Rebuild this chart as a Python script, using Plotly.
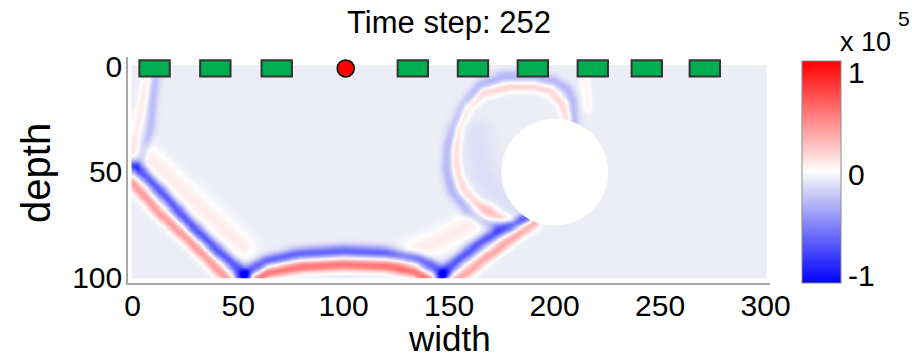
import numpy as np
import plotly.graph_objects as go

# ---------------- data ----------------
time_step = 252
width_ticks = [0, 50, 100, 150, 200, 250, 300]
depth_ticks = [0, 50, 100]
cbar_tick_text = ["-1", "0", "1"]
cbar_tick_pos = [-0.93, -0.02, 0.9]   # where the labels sit along the bar
cbar_exponent = 5

grid_width = np.arange(0, 301)      # width samples
grid_depth = np.arange(0, 101)      # depth samples
background_level = -0.06

receiver_x = [10.4, 39.2, 68.3, 132.8, 161.3, 189.7, 218.1, 243.7, 271.2]
receiver_depth = [1, 1, 1, 1, 1, 1, 1, 1, 1]
source_x = [101]
source_depth = [1]

hole_x = 200.1
hole_depth = 50.2
hole_radius = 25.3

# wavefronts: (width points, depth points, amplitude, band sigma)
left_wall_blue_x = [12, 10.6, 8.2, 4.5, 1.9]
left_wall_blue_d = [-1, 5, 29, 41, 47.7]
left_wall_red_x = [8, 6.6, 3.5, 1.2, -1]
left_wall_red_d = [-1, 5, 22, 32, 40]

left_v_blue_x = [-1, 1.9, 14, 26, 40, 52.4, 54]
left_v_blue_d = [46.8, 47.7, 60, 73.5, 87, 97.8, 100.5]
left_v_red_x = [-1.5, 0.3, 12, 26, 36, 43.7, 45]
left_v_red_d = [54.4, 55.6, 69, 82, 92, 99.8, 101.5]
left_inner_faint_x = [5, 20, 36, 52]
left_inner_faint_d = [41, 55, 70, 85]

bottom_blue_x = [51, 56, 63, 78, 100, 120, 135, 142, 147.5]
bottom_blue_d = [99.5, 96, 92, 88.5, 87.2, 88, 91, 94.5, 98.5]
bottom_red_x = [58, 64, 80, 100, 120, 133, 140]
bottom_red_d = [101, 97.5, 94.8, 93.8, 94.5, 97, 101]

right_v_blue_x = [145.5, 148, 161.5, 172, 180.4, 186]
right_v_blue_d = [100.5, 96.5, 85.6, 78.5, 74.5, 72]
right_v_red_x = [152, 156, 170, 186.7, 190]
right_v_red_d = [101.5, 99.2, 88.5, 76.2, 74]
right_inner_faint_x = [128, 148, 168]
right_inner_faint_d = [90, 81, 70]

scatter_blue_x = [172, 166, 158.3, 150.8, 148.6, 149.2, 152, 157, 164.7, 175, 190, 200, 205.7, 208.3, 208.8, 209]
scatter_blue_d = [75.5, 73.5, 68.2, 58.7, 47.7, 38, 28.5, 18, 8.5, 4.5, 4.3, 6.8, 10.5, 16, 22.4, 27]
scatter_red_x = [180, 171, 163, 157, 153.5, 152.6, 154.2, 158.6, 166, 178.8, 190, 197.7, 203.5, 205.7]
scatter_red_d = [73, 69.8, 65, 58.5, 50, 41, 29, 19, 12.5, 9.6, 9.6, 11.5, 17.7, 24]
scatter_faint_blue_x = [163, 165, 171, 178]
scatter_faint_blue_d = [32, 48, 60, 66]
stub_red_x = [214, 215, 215.5]
stub_red_d = [6, 13, 20]

wavefronts = [
    (left_wall_blue_x, left_wall_blue_d, -0.2, 1.7),
    (left_wall_red_x, left_wall_red_d, 0.13, 1.7),
    (left_v_blue_x, left_v_blue_d, -0.6, 1.9),
    (left_v_red_x, left_v_red_d, 0.45, 1.9),
    (left_inner_faint_x, left_inner_faint_d, 0.13, 4.0),
    (bottom_blue_x, bottom_blue_d, -0.55, 1.9),
    (bottom_red_x, bottom_red_d, 0.6, 1.9),
    (right_v_blue_x, right_v_blue_d, -0.6, 1.9),
    (right_v_red_x, right_v_red_d, 0.4, 1.9),
    (right_inner_faint_x, right_inner_faint_d, 0.13, 4.0),
    (scatter_blue_x, scatter_blue_d, -0.22, 1.8),
    (scatter_red_x, scatter_red_d, 0.22, 1.7),
    (scatter_faint_blue_x, scatter_faint_blue_d, -0.06, 5.0),
    (stub_red_x, stub_red_d, 0.1, 1.5),
]

# ---------------- build the field from the wavefronts ----------------
GX, GD = np.meshgrid(grid_width, grid_depth)


def polyline_distance(px, py, xs, ys):
    d = np.full(px.shape, np.inf)
    for i in range(len(xs) - 1):
        ax, ay, bx, by = xs[i], ys[i], xs[i + 1], ys[i + 1]
        dx, dy = bx - ax, by - ay
        L2 = dx * dx + dy * dy
        t = np.clip(((px - ax) * dx + (py - ay) * dy) / L2, 0, 1)
        d = np.minimum(d, np.hypot(px - (ax + t * dx), py - (ay + t * dy)))
    return d


field = np.full(GX.shape, background_level, dtype=float)
for xs, ds, amp, sig in wavefronts:
    dist = polyline_distance(GX, GD, xs, ds)
    field += amp * np.exp(-0.5 * (dist / sig) ** 2)
field = np.clip(field, -1, 1)

bg_pos = (1 + background_level) / 2
colorscale = [
    [0.0, "rgb(0,0,255)"],
    [bg_pos, "rgb(236,237,246)"],
    [0.5, "rgb(255,255,255)"],
    [1.0, "rgb(255,0,0)"],
]

FONT = "Liberation Sans, Arial, Helvetica, sans-serif"

fig = go.Figure()
fig.add_trace(go.Heatmap(
    x=grid_width, y=grid_depth, z=np.round(field, 3),
    colorscale=colorscale, zmin=-1, zmax=1, zsmooth="best",
    hoverinfo="skip",
    colorbar=dict(
        x=(802 - 128) / 642, xanchor="left", xpad=0,
        y=0.489, yanchor="middle", ypad=0,
        lenmode="pixels", len=222, thicknessmode="pixels", thickness=39,
        outlinewidth=1, outlinecolor="#8c8c8c",
        tickvals=cbar_tick_pos, ticktext=cbar_tick_text,
        ticks="",
        tickfont=dict(size=30, color="black", family=FONT),
    ),
))

fig.add_trace(go.Scatter(
    x=source_x, y=source_depth, mode="markers", cliponaxis=False,
    marker=dict(size=17, color="#ff0000", line=dict(color="black", width=1.5)),
    hoverinfo="skip", showlegend=False,
))

shapes = [dict(type="circle", xref="x", yref="y",
               x0=hole_x - hole_radius, x1=hole_x + hole_radius,
               y0=hole_depth - hole_radius, y1=hole_depth + hole_radius,
               fillcolor="white", line=dict(width=0), layer="above")]
for rx, rd in zip(receiver_x, receiver_depth):
    shapes.append(dict(type="rect", xref="x", yref="y",
                       x0=rx - 7.2, x1=rx + 7.2, y0=rd - 3.9, y1=rd + 3.9,
                       fillcolor="#00ae4f", line=dict(color="#333333", width=2),
                       layer="above"))

axis_common = dict(showline=True, linecolor="#a8a8a8", linewidth=1.5,
                   ticks="", showgrid=False, zeroline=False,
                   tickfont=dict(size=30, color="black", family=FONT))

fig.update_layout(
    width=912, height=359,
    margin=dict(l=128, r=142, t=57, b=76),
    paper_bgcolor="white", plot_bgcolor="white",
    font=dict(family=FONT, color="black"),
    showlegend=False,
    shapes=shapes,
    title=dict(text=f"Time step: {time_step}", x=0.5, xref="paper",
               y=1 - 22 / 359, yref="container", yanchor="middle",
               xanchor="center", font=dict(size=31, color="black", family=FONT)),
    xaxis=dict(range=[-2.2, 302.1], tickvals=width_ticks,
               ticklabelstandoff=-5, **axis_common),
    yaxis=dict(range=[102.7, -4.4], tickvals=depth_ticks,
               ticklabelstandoff=-2, **axis_common),
    annotations=[
        dict(text="width", xref="paper", yref="paper", x=0.5, y=(283 - 338.5) / 226,
             xanchor="center", yanchor="middle", showarrow=False,
             font=dict(size=35, color="black", family=FONT)),
        dict(text="depth", xref="paper", yref="paper", x=(36 - 128) / 642, y=0.487,
             xanchor="center", yanchor="middle", textangle=-90, showarrow=False,
             font=dict(size=40, color="black", family=FONT)),
        dict(text="x 10", xref="paper", yref="paper",
             x=(838 - 128) / 642, y=(283 - 42) / 226,
             xanchor="left", yanchor="middle", showarrow=False,
             font=dict(size=27, color="black", family=FONT)),
        dict(text=str(cbar_exponent), xref="paper", yref="paper",
             x=(896 - 128) / 642, y=(283 - 18) / 226,
             xanchor="left", yanchor="middle", showarrow=False,
             font=dict(size=21, color="black", family=FONT)),
    ],
)

fig.write_html("out.html",
               config={"displayModeBar": False},
               post_script="document.body.style.margin='0px';document.body.style.overflow='hidden';")
